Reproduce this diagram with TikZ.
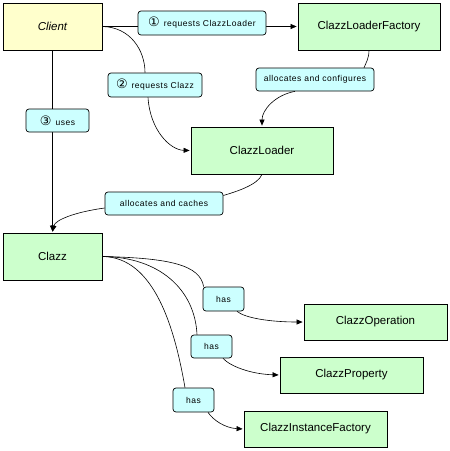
\documentclass[tikz,border=0pt]{standalone}
\usepackage{fontspec}
\setmainfont{Liberation Sans}
\newfontfamily\lblfont[LetterSpace=6]{Liberation Sans}
\newfontfamily\dvfont{DejaVu Sans}
\usetikzlibrary{arrows.meta,backgrounds}
\definecolor{cyellow}{HTML}{FFFFCC}
\definecolor{cgreen}{HTML}{CCFFCC}
\definecolor{ccyan}{HTML}{CCFFFF}
\newcommand{\circd}[1]{{\dvfont\fontsize{13}{13}\selectfont #1}\hspace{4pt}}
\tikzset{
  box/.style={draw, line width=0.8pt, inner sep=0pt, font=\fontsize{11.5}{13}\selectfont},
  gbox/.style={box, fill=cgreen},
  lbl/.style={draw, line width=0.7pt, fill=ccyan, rounded corners=3pt, inner sep=0pt,
     font=\lblfont\fontsize{8.5}{10}\selectfont},
  edge/.style={line width=0.6pt},
  arr/.style={edge, -{Triangle[length=6pt,width=5pt]}, shorten >=1pt}
}
\begin{document}
\begin{tikzpicture}[x=1pt,y=-1pt]
\useasboundingbox (0,0) rectangle (450,451);
% class boxes
\node[box, fill=cyellow, minimum width=99pt, minimum height=47pt, font=\fontsize{11.5}{13}\selectfont\itshape] (client) at (52.5,26.5) {Client};
\node[gbox, minimum width=142pt, minimum height=47pt] (factory) at (369,26.5) {ClazzLoaderFactory};
\node[gbox, minimum width=142pt, minimum height=47pt] (loader) at (262,150.5) {ClazzLoader};
\node[gbox, minimum width=99pt, minimum height=47pt] (clazz) at (52.5,256.5) {Clazz};
\node[gbox, minimum width=143pt, minimum height=36pt] (op) at (375.5,322) {ClazzOperation};
\node[gbox, minimum width=143pt, minimum height=36pt] (prop) at (351.5,375) {ClazzProperty};
\node[gbox, minimum width=143pt, minimum height=36pt] (inst) at (315.5,429) {ClazzInstanceFactory};
% labels
\node[lbl, minimum width=128pt, minimum height=24pt] (l1) at (202,23) {\circd{①}requests ClazzLoader};
\node[lbl, minimum width=94pt, minimum height=24pt] (l2) at (155,85) {\circd{②}requests Clazz};
\node[lbl, minimum width=63pt, minimum height=23pt] (l3) at (57.5,120.5) {\circd{③}uses\hspace{8pt}};
\node[lbl, minimum width=118pt, minimum height=23pt] (lac) at (315,79.5) {allocates and configures};
\node[lbl, minimum width=118pt, minimum height=23pt] (lca) at (164,203.5) {allocates and caches};
\node[lbl, minimum width=41pt, minimum height=24pt] (h1) at (223.5,299) {has};
\node[lbl, minimum width=41pt, minimum height=23pt] (h2) at (211.5,346.5) {has};
\node[lbl, minimum width=41pt, minimum height=24pt] (h3) at (193.5,400) {has};
% connectors
\begin{scope}[on background layer]
\draw[arr] (client.east) -- (factory.west);
\draw[arr] (client.south) -- (clazz.north);
\end{scope}
\draw[edge] (client.east) .. controls (130,27) and (145,50) .. ([xshift=-10pt]l2.north);
\draw[arr] ([xshift=-7pt]l2.south) .. controls (150,130) and (170,150) .. (loader.west);
\draw[edge] (factory.south) .. controls (369,58) and (366,63) .. ([xshift=49pt]lac.north);
\draw[arr] ([xshift=-20pt]lac.south) .. controls (275,95) and (262,110) .. (loader.north);
\draw[edge] (loader.south) .. controls (258,185) and (235,192) .. ([yshift=8pt]lca.east);
\draw[arr] ([yshift=-4.5pt]lca.west) .. controls (75,212) and (55,220) .. (clazz.north);
\draw[edge] (clazz.east) .. controls (170,258) and (200,265) .. ([xshift=1pt]h1.north west);
\draw[edge] (clazz.east) .. controls (160,257) and (195,290) .. ([xshift=-14.5pt]h2.north);
\draw[edge] (clazz.east) .. controls (155,257) and (175,330) .. ([xshift=-8.5pt]h3.north);
\draw[arr] ([xshift=13.5pt]h1.south) .. controls (245,318) and (270,322) .. (op.west);
\draw[arr] ([xshift=11.5pt]h2.south) .. controls (230,366) and (250,374) .. (prop.west);
\draw[arr] ([xshift=14.5pt]h3.south) .. controls (213,420) and (225,428) .. (inst.west);
\end{tikzpicture}
\end{document}
